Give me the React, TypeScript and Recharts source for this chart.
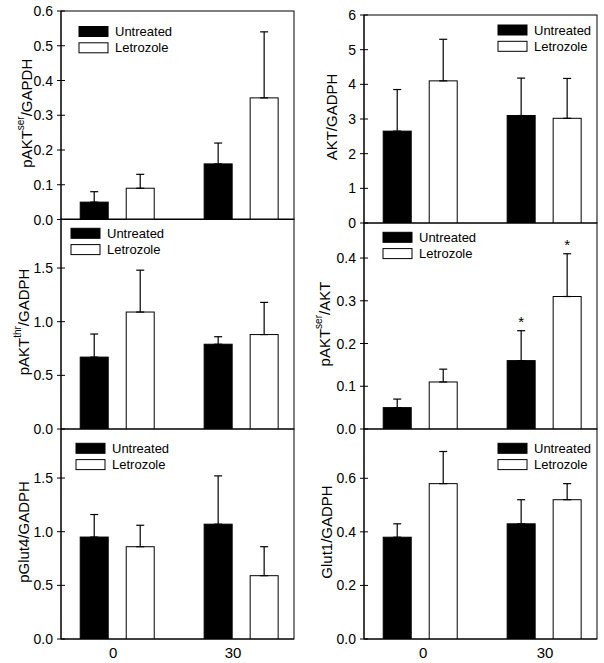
import { Bar, BarChart, ErrorBar, XAxis, YAxis } from "recharts";

const FONT = '"Liberation Sans", Arial, sans-serif';

// time points (x axis)
const times = [0, 30];

// pAKT(ser)/GAPDH
const pAktSerGapdhUntreated = [0.05, 0.16];
const pAktSerGapdhUntreatedSe = [0.03, 0.06];
const pAktSerGapdhLetrozole = [0.09, 0.35];
const pAktSerGapdhLetrozoleSe = [0.04, 0.19];

// AKT/GADPH
const aktGadphUntreated = [2.65, 3.1];
const aktGadphUntreatedSe = [1.2, 1.08];
const aktGadphLetrozole = [4.1, 3.02];
const aktGadphLetrozoleSe = [1.2, 1.15];

// pAKT(thr)/GADPH
const pAktThrUntreated = [0.67, 0.79];
const pAktThrUntreatedSe = [0.215, 0.07];
const pAktThrLetrozole = [1.09, 0.88];
const pAktThrLetrozoleSe = [0.39, 0.3];

// pAKT(ser)/AKT
const pAktSerAktUntreated = [0.05, 0.16];
const pAktSerAktUntreatedSe = [0.02, 0.07];
const pAktSerAktLetrozole = [0.11, 0.31];
const pAktSerAktLetrozoleSe = [0.03, 0.1];
const pAktSerAktUntreatedSig = [false, true];
const pAktSerAktLetrozoleSig = [false, true];

// pGlut4/GADPH
const pGlut4Untreated = [0.95, 1.07];
const pGlut4UntreatedSe = [0.21, 0.45];
const pGlut4Letrozole = [0.86, 0.59];
const pGlut4LetrozoleSe = [0.2, 0.27];

// Glut1/GADPH
const glut1Untreated = [0.38, 0.43];
const glut1UntreatedSe = [0.05, 0.09];
const glut1Letrozole = [0.58, 0.52];
const glut1LetrozoleSe = [0.12, 0.06];

// y tick labels
const ticksPAktSerGapdh = [0, 0.1, 0.2, 0.3, 0.4, 0.5, 0.6];
const ticksAkt = [0, 1, 2, 3, 4, 5, 6];
const ticksHalf = [0, 0.5, 1.0, 1.5];
const ticksPAktSerAkt = [0, 0.1, 0.2, 0.3, 0.4];
const ticksGlut1 = [0, 0.2, 0.4, 0.6];

const NONE = [false, false];
const X_DOMAIN = [-13.6, 42.8];
const MT = 12;
const MB = 10;

interface PanelDef {
  title: string[];
  untreated: number[];
  untreatedSe: number[];
  letrozole: number[];
  letrozoleSe: number[];
  untreatedSig?: boolean[];
  letrozoleSig?: boolean[];
  yMax: number;
  yTicks: number[];
  decimals: number;
  side: "left" | "right";
  top: number;
  bottom: number;
  showX?: boolean;
  xShift?: number[];
  labelOffset: number;
  legendX: number;
  legendY: number;
}

const panels: PanelDef[] = [
  {
    title: ["pAKT", "ser", "/GAPDH"],
    untreated: pAktSerGapdhUntreated,
    untreatedSe: pAktSerGapdhUntreatedSe,
    letrozole: pAktSerGapdhLetrozole,
    letrozoleSe: pAktSerGapdhLetrozoleSe,
    yMax: 0.6,
    yTicks: ticksPAktSerGapdh,
    decimals: 1,
    side: "left",
    top: 10.5,
    bottom: 219,
    labelOffset: 29,
    legendX: 18,
    legendY: 15.5,
  },
  {
    title: ["AKT/GADPH"],
    untreated: aktGadphUntreated,
    untreatedSe: aktGadphUntreatedSe,
    letrozole: aktGadphLetrozole,
    letrozoleSe: aktGadphLetrozoleSe,
    yMax: 6,
    yTicks: ticksAkt,
    decimals: 0,
    side: "right",
    top: 15,
    bottom: 223,
    labelOffset: 27,
    legendX: 134,
    legendY: 10,
  },
  {
    title: ["pAKT", "thr", "/GADPH"],
    untreated: pAktThrUntreated,
    untreatedSe: pAktThrUntreatedSe,
    letrozole: pAktThrLetrozole,
    letrozoleSe: pAktThrLetrozoleSe,
    yMax: 1.957,
    yTicks: ticksHalf,
    decimals: 1,
    side: "left",
    top: 219,
    bottom: 429,
    labelOffset: 32,
    legendX: 10,
    legendY: 9.3,
  },
  {
    title: ["pAKT", "ser", "/AKT"],
    untreated: pAktSerAktUntreated,
    untreatedSe: pAktSerAktUntreatedSe,
    letrozole: pAktSerAktLetrozole,
    letrozoleSe: pAktSerAktLetrozoleSe,
    untreatedSig: pAktSerAktUntreatedSig,
    letrozoleSig: pAktSerAktLetrozoleSig,
    yMax: 0.482,
    yTicks: ticksPAktSerAkt,
    decimals: 1,
    side: "right",
    top: 223,
    bottom: 429,
    labelOffset: 34,
    legendX: 19,
    legendY: 9.3,
  },
  {
    title: ["pGlut4/GADPH"],
    untreated: pGlut4Untreated,
    untreatedSe: pGlut4UntreatedSe,
    letrozole: pGlut4Letrozole,
    letrozoleSe: pGlut4LetrozoleSe,
    yMax: 1.957,
    yTicks: ticksHalf,
    decimals: 1,
    side: "left",
    top: 429,
    bottom: 639,
    showX: true,
    xShift: [-4, -8],
    labelOffset: 32,
    legendX: 15,
    legendY: 14.3,
  },
  {
    title: ["Glut1/GADPH"],
    untreated: glut1Untreated,
    untreatedSe: glut1UntreatedSe,
    letrozole: glut1Letrozole,
    letrozoleSe: glut1LetrozoleSe,
    yMax: 0.784,
    yTicks: ticksGlut1,
    decimals: 1,
    side: "right",
    top: 429,
    bottom: 639,
    showX: true,
    xShift: [3, 1],
    labelOffset: 32,
    legendX: 134,
    legendY: 14.3,
  },
];

// bar rectangle plus an optional significance star above the error bar
const barShape = (valueKey: string, errKey: string, sigKey: string) => (props: any) => {
  const { x, y, width, height, fill, payload } = props;
  const value = payload[valueKey];
  const se = payload[errKey][1];
  const errTop = y - (se * height) / value;
  return (
    <g>
      <rect x={x} y={y} width={width} height={height} fill={fill} stroke="#000" strokeWidth={1} />
      {payload[sigKey] && (
        <text x={x + width / 2} y={errTop - 4} textAnchor="middle" fontSize={15} fontFamily={FONT} fill="#000">
          *
        </text>
      )}
    </g>
  );
};

function Panel({ p }: { p: PanelDef }) {
  const isLeft = p.side === "left";
  const axisW = isLeft ? 61 : 64;
  const width = isLeft ? 300 : 304;
  const marginRight = isLeft ? 6 : 7;
  const plotH = p.bottom - p.top;
  const plotW = width - axisW - marginRight;
  const xH = p.showX ? 22 : 0;
  const height = MT + plotH + xH + MB;

  const rows = times.map((t, i) => ({
    time: t,
    u: p.untreated[i],
    uErr: [0, p.untreatedSe[i]],
    uSig: (p.untreatedSig ?? NONE)[i],
    l: p.letrozole[i],
    lErr: [0, p.letrozoleSe[i]],
    lSig: (p.letrozoleSig ?? NONE)[i],
  }));

  const yTick = (props: any) => {
    const { x, y, payload } = props;
    const ax = x + 8;
    return (
      <g>
        <line x1={ax - 4} x2={ax + 4} y1={y} y2={y} stroke="#000" />
        <text x={x} y={y} dy="0.36em" textAnchor="end" fontSize={14} fontFamily={FONT} fill="#000">
          {Number(payload.value).toFixed(p.decimals)}
        </text>
      </g>
    );
  };

  const xTick = (props: any) => {
    const { x, y, payload, index } = props;
    const shift = p.xShift ? p.xShift[index] ?? 0 : 0;
    return (
      <text x={x + shift} y={y} dy="0.71em" textAnchor="middle" fontSize={15} fontFamily={FONT} fill="#000">
        {payload.value}
      </text>
    );
  };

  const tx = axisW - p.labelOffset;
  const ty = MT + plotH / 2 - 2;
  const lx = axisW + p.legendX;
  const ly = MT + p.legendY;

  return (
    <div style={{ position: "absolute", left: isLeft ? 0 : 300, top: p.top - MT }}>
      <BarChart
        width={width}
        height={height}
        data={rows}
        margin={{ top: MT, right: marginRight, bottom: MB, left: 0 }}
        barGap={18}
        barSize={28}
      >
        <XAxis
          dataKey="time"
          type="number"
          domain={X_DOMAIN}
          allowDataOverflow
          ticks={times}
          interval={0}
          height={xH}
          tickLine={false}
          tickSize={6}
          tickMargin={2}
          axisLine={{ stroke: "#000" }}
          tick={p.showX ? xTick : false}
        />
        <YAxis
          type="number"
          domain={[0, p.yMax]}
          allowDataOverflow
          ticks={p.yTicks}
          interval={0}
          width={axisW}
          tickLine={false}
          tickSize={4}
          tickMargin={4}
          axisLine={{ stroke: "#000" }}
          tick={yTick}
        />
        <Bar dataKey="u" fill="#000" isAnimationActive={false} shape={barShape("u", "uErr", "uSig")}>
          <ErrorBar dataKey="uErr" direction="y" width={4} stroke="#000" strokeWidth={1.2} isAnimationActive={false} />
        </Bar>
        <Bar dataKey="l" fill="#fff" isAnimationActive={false} shape={barShape("l", "lErr", "lSig")}>
          <ErrorBar dataKey="lErr" direction="y" width={4} stroke="#000" strokeWidth={1.2} isAnimationActive={false} />
        </Bar>

        {/* frame around the plot area */}
        <rect x={axisW} y={MT} width={plotW} height={plotH} fill="none" stroke="#000" strokeWidth={1} />

        <text
          x={tx}
          y={ty}
          transform={`rotate(-90 ${tx} ${ty})`}
          textAnchor="middle"
          fontSize={15}
          fontFamily={FONT}
          fill="#000"
        >
          <tspan>{p.title[0]}</tspan>
          {p.title.length > 1 && (
            <>
              <tspan dy={-8} fontSize={10}>
                {p.title[1]}
              </tspan>
              <tspan dy={8}>{p.title[2]}</tspan>
            </>
          )}
        </text>

        <g fontFamily={FONT} fontSize={13} fill="#000">
          <rect x={lx} y={ly} width={29} height={10} fill="#000" stroke="#000" />
          <text x={lx + 36} y={ly + 5} dy="0.36em">
            Untreated
          </text>
          <rect x={lx} y={ly + 16.3} width={29} height={10} fill="#fff" stroke="#000" />
          <text x={lx + 36} y={ly + 21.3} dy="0.36em">
            Letrozole
          </text>
        </g>
      </BarChart>
    </div>
  );
}

export default function App() {
  return (
    <div style={{ position: "absolute", left: 0, top: 0, width: 604, height: 663, background: "#fff" }}>
      {panels.map((p, i) => (
        <Panel key={i} p={p} />
      ))}
    </div>
  );
}
